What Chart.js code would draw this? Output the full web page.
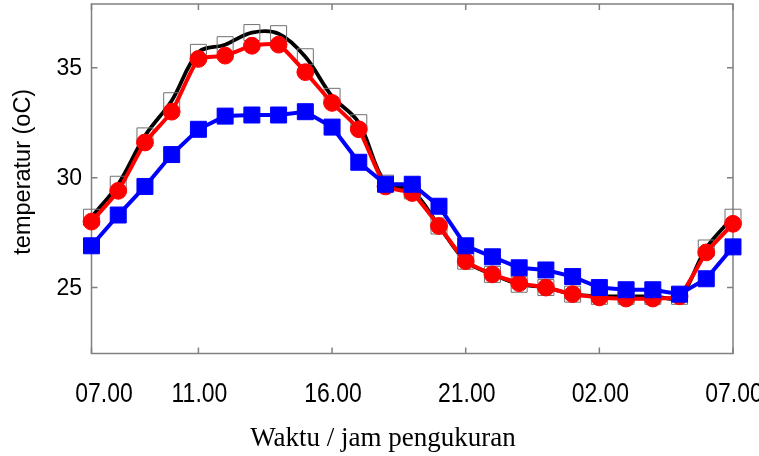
<!DOCTYPE html>
<html><head><meta charset="utf-8">
<script src="https://cdn.jsdelivr.net/npm/chart.js@4"></script>
<style>html,body{margin:0;padding:0;background:#fff}#wrap{width:759px;height:456px}</style>
</head><body><div id="wrap"><canvas id="c" width="759" height="456"></canvas></div>
<script>
const hours = ["07.00","08.00","09.00","10.00","11.00","12.00","13.00","14.00","15.00","16.00","17.00","18.00","19.00","20.00","21.00","22.00","23.00","00.00","01.00","02.00","03.00","04.00","05.00","06.00","07.00"];
const shownTicks = ["07.00","11.00","16.00","21.00","02.00","07.00"];
const yTicks = [25, 30, 35];
const xTitle = "Waktu / jam pengukuran";
const yTitle = "temperatur (oC)";
const blackSeries = [28.2, 29.7, 31.9, 33.5, 35.7, 36.05, 36.6, 36.55, 35.5, 33.7, 32.5, 29.75, 29.4, 27.8, 26.2, 25.6, 25.15, 25.0, 24.7, 24.6, 24.6, 24.6, 24.6, 26.8, 28.2];
const redSeries = [28.0, 29.4, 31.6, 33.0, 35.4, 35.55, 36.0, 36.05, 34.8, 33.4, 32.2, 29.6, 29.3, 27.8, 26.2, 25.6, 25.2, 25.0, 24.7, 24.55, 24.5, 24.5, 24.6, 26.6, 27.9];
const blueSeries = [26.9, 28.3, 29.6, 31.05, 32.2, 32.8, 32.85, 32.85, 33.0, 32.3, 30.7, 29.7, 29.7, 28.7, 26.9, 26.4, 25.9, 25.8, 25.5, 25.0, 24.9, 24.9, 24.7, 25.4, 26.85];

const framePlugin = {
  id: 'frame',
  beforeDatasetsDraw(chart) {
    const {ctx, chartArea: a, scales: {x, y}} = chart;
    ctx.save();
    ctx.strokeStyle = '#808080';
    ctx.lineWidth = 1.5;
    ctx.strokeRect(a.left, a.top, a.right - a.left, a.bottom - a.top);
    const L = 6;
    ctx.beginPath();
    yTicks.forEach(v => {
      const py = y.getPixelForValue(v);
      ctx.moveTo(a.left, py); ctx.lineTo(a.left + L, py);
      ctx.moveTo(a.right, py); ctx.lineTo(a.right - L, py);
    });
    hours.forEach((h, i) => {
      if (!shownTicks.includes(h)) return;
      const px = x.getPixelForValue(i);
      ctx.moveTo(px, a.bottom); ctx.lineTo(px, a.bottom - L);
      ctx.moveTo(px, a.top); ctx.lineTo(px, a.top + L);
    });
    ctx.stroke();

    ctx.fillStyle = '#000';
    // y tick labels
    ctx.font = "23px 'Liberation Sans', Arial, sans-serif";
    ctx.textAlign = 'right';
    ctx.textBaseline = 'middle';
    yTicks.forEach(v => {
      ctx.fillText(String(v), a.left - 9.5, y.getPixelForValue(v) + 1);
    });
    // y axis title
    ctx.save();
    ctx.font = "23.5px 'Liberation Sans', Arial, sans-serif";
    ctx.textAlign = 'center';
    ctx.textBaseline = 'middle';
    ctx.translate(24, (a.top + a.bottom) / 2 - 7);
    ctx.rotate(-Math.PI / 2);
    ctx.fillText(yTitle, 0, 0);
    ctx.restore();
    // x tick labels (condensed, like the original figure)
    ctx.font = "28px 'Liberation Sans', Arial, sans-serif";
    ctx.textAlign = 'center';
    ctx.textBaseline = 'alphabetic';
    hours.forEach((h, i) => {
      if (!shownTicks.includes(h)) return;
      const px = x.getPixelForValue(i) + (i === 0 ? 12.5 : 1);
      ctx.save();
      ctx.translate(px, a.bottom + 48.2);
      ctx.scale(0.82, 1);
      ctx.fillText(h, 0, 0);
      ctx.restore();
    });
    // x axis title
    ctx.font = "27px 'Liberation Serif', 'Times New Roman', serif";
    ctx.textAlign = 'center';
    ctx.fillText(xTitle, 383, a.bottom + 92.2);
    ctx.restore();
  }
};

new Chart(document.getElementById('c'), {
  type: 'line',
  data: {
    labels: hours,
    datasets: [
      {label: 'black', data: blackSeries, borderColor: '#000', borderWidth: 3.8, tension: 0.35,
       pointStyle: 'rect', pointRadius: 11.3, pointBorderColor: '#707070', pointBorderWidth: 1,
       pointBackgroundColor: 'rgba(0,0,0,0)', order: 3, clip: false},
      {label: 'red', data: redSeries, borderColor: '#ff0000', borderWidth: 4, tension: 0.15,
       pointStyle: 'circle', pointRadius: 8.4, pointBorderColor: '#ff0000', pointBorderWidth: 1,
       pointBackgroundColor: '#ff0000', order: 2, clip: false},
      {label: 'blue', data: blueSeries, borderColor: '#0000ff', borderWidth: 4, tension: 0,
       pointStyle: 'rect', pointRadius: 11.3, pointBorderColor: '#0000ff', pointBorderWidth: 1,
       pointBackgroundColor: '#0000ff', order: 1, clip: false}
    ]
  },
  options: {
    responsive: false,
    devicePixelRatio: 1,
    animation: false,
    layout: {autoPadding: false, padding: {top: 4, right: 26, left: 0, bottom: 0}},
    plugins: {
      legend: {display: false},
      tooltip: {enabled: false},
      title: {display: false}
    },
    scales: {
      x: {
        type: 'category', offset: false,
        grid: {display: false, drawTicks: false}, border: {display: false},
        ticks: {display: false},
        afterFit: s => { s.height = 102.5; s.paddingLeft = 0; s.paddingRight = 0; }
      },
      y: {
        type: 'linear', min: 22, max: 37.9,
        afterBuildTicks: s => { s.ticks = yTicks.map(v => ({value: v})); },
        grid: {display: false, drawTicks: false}, border: {display: false},
        ticks: {display: false},
        afterFit: s => { s.width = 91.5; s.paddingTop = 0; s.paddingBottom = 0; }
      }
    }
  },
  plugins: [framePlugin]
});
</script></body></html>
